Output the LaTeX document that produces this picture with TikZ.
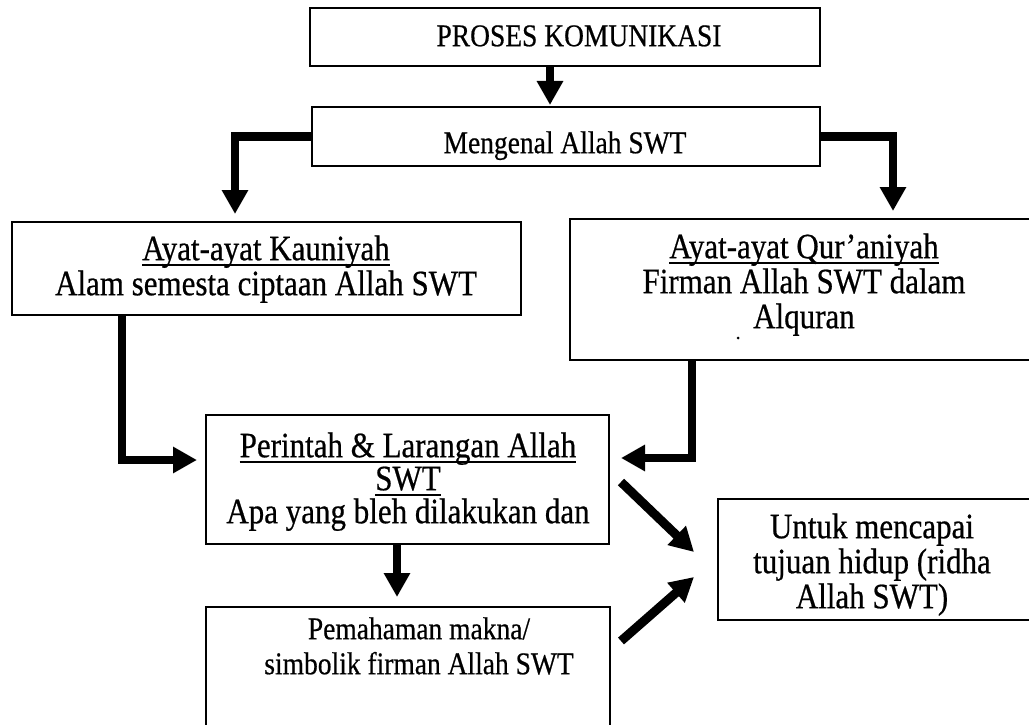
\documentclass[tikz,border=0pt]{standalone}
\usepackage{fontspec}
\usepackage{graphicx}
\setmainfont[FakeBold=0.6]{Liberation Serif}
\usetikzlibrary{arrows.meta,calc}
\newcommand\myul[1]{\setbox0\hbox{#1}\leavevmode\rlap{\vrule width\wd0 height -3.5pt depth 5.5pt}\box0}
\newcommand\vs[1]{\scalebox{1}[1.15]{#1}}
\newcommand\fs{\rule{0pt}{28pt}}
\tikzset{
  box/.style={draw, line width=2pt, rectangle, inner sep=0pt},
  bigtxt/.style={font=\fontsize{31}{35}\selectfont, align=center, inner sep=0pt, anchor=north},
  smalltxt/.style={font=\fontsize{27.5}{35}\selectfont, align=center, inner sep=0pt, anchor=north},
  conn/.style={line width=8.5pt, -{Triangle[length=24pt,width=25pt]}, line join=miter},
  diag/.style={line width=9pt, -{Triangle[length=24pt,width=25pt]}}
}
\begin{document}
\begin{tikzpicture}[x=1pt,y=-1pt]
\useasboundingbox (0,0) rectangle (1029,725);
\clip (0,0) rectangle (1029,725);
\fill[white] (0,0) rectangle (1029,725);

% boxes
\node[box, minimum width=510pt, minimum height=58pt] (proses) at (565,37) {};
\node[box, minimum width=508pt, minimum height=59pt] (mengenal) at (566,136.5) {};
\node[box, minimum width=509pt, minimum height=93pt] (kauniyah) at (266.5,268.5) {};
\node[box, minimum width=470pt, minimum height=141pt] (quraniyah) at (805,289.5) {};
\node[box, minimum width=403pt, minimum height=129pt] (perintah) at (407.5,479.5) {};
\node[box, minimum width=322pt, minimum height=121pt] (untuk) at (879,559.5) {};
\node[box, minimum width=404pt, minimum height=138pt] (pemahaman) at (408,676) {};

% texts
\node[smalltxt] (prosesT) at (579,18) {\fs\vs{PROSES KOMUNIKASI}};
\node[smalltxt] (mengenalT) at (565,125) {\fs\vs{Mengenal Allah SWT}};
\node[bigtxt] (kauniyahT) at (266,232) {\fs\myul{\vs{Ayat-ayat Kauniyah}}\\\vs{Alam semesta ciptaan Allah SWT}};
\node[bigtxt] (quraniyahT) at (804,230) {\fs\myul{\vs{Ayat-ayat Qur’aniyah}}\\\vs{Firman Allah SWT dalam}\\\vs{Alquran}};
\node[bigtxt, font=\fontsize{31}{33}\selectfont] (perintahT) at (408,429) {\fs\myul{\vs{Perintah \& Larangan Allah}}\\\myul{\vs{SWT}}\\\vs{Apa yang bleh dilakukan dan}};
\node[bigtxt] (untukT) at (872,510) {\fs\vs{Untuk mencapai}\\\vs{tujuan hidup (ridha}\\\vs{Allah SWT)}};
\node[smalltxt] (pemahamanT) at (419,611) {\fs\vs{Pemahaman makna/}\\\vs{simbolik firman Allah SWT}};

% stray mark
\fill (738,338) circle (1.5pt);

% connectors
\coordinate (a1) at ($(proses.south)+(-15,0)$);
\draw[conn, shorten >=1pt] (a1) -- (a1 |- mengenal.north);
\draw[conn, shorten >=7pt] (mengenal.west) -| ($(kauniyah.north)+(-31.5,0)$);
\draw[conn, shorten >=7pt] (mengenal.east) -| ($(quraniyah.north west)+(324,0)$);
\draw[conn, shorten >=8pt] ($(kauniyah.south west)+(111,0)$) |- ($(perintah.west)+(0,-19.5)$);
\draw[conn, shorten >=11pt] ($(quraniyah.south west)+(123,0)$) |- ($(perintah.east)+(0,-21.5)$);
\coordinate (a2) at ($(perintah.south)+(-10.5,0)$);
\draw[conn, shorten >=9pt] (a2) -- (a2 |- pemahaman.north);
\draw[diag] ($(perintah.east)+(11,2.5)$) -- ($(untuk.west)+(-23,-7.5)$);
\draw[diag] ($(pemahaman.north east)+(10,35)$) -- ($(untuk.west)+(-23,17.5)$);
\end{tikzpicture}
\end{document}
